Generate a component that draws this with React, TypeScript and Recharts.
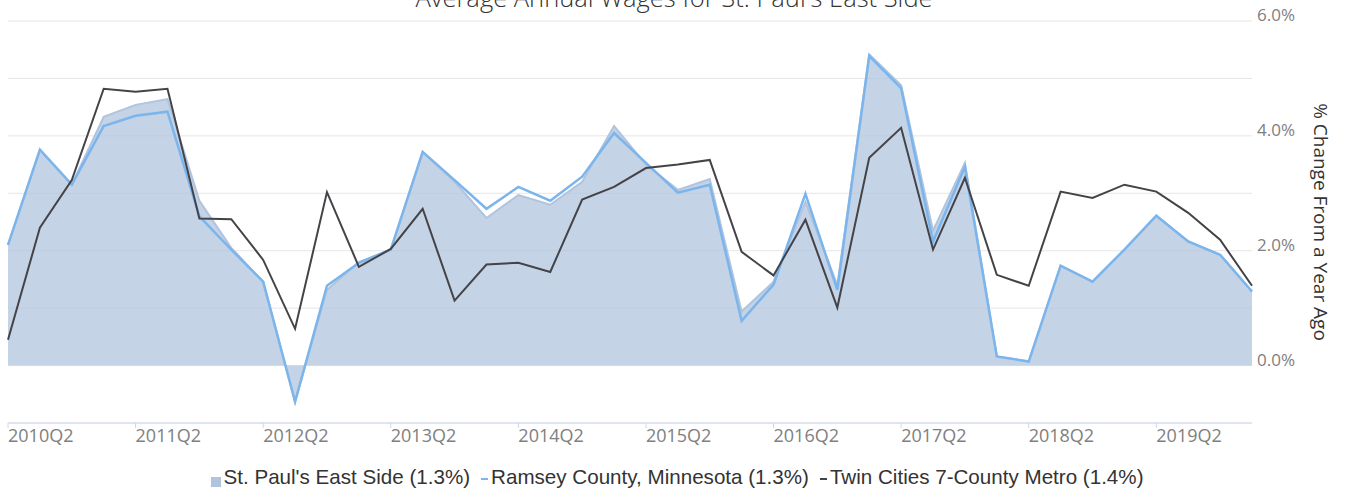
import { Area, CartesianGrid, ComposedChart, Legend, Line, XAxis, YAxis } from 'recharts';

const quarters = [
  '2010Q2', '2010Q3', '2010Q4', '2011Q1', '2011Q2', '2011Q3', '2011Q4', '2012Q1',
  '2012Q2', '2012Q3', '2012Q4', '2013Q1', '2013Q2', '2013Q3', '2013Q4', '2014Q1',
  '2014Q2', '2014Q3', '2014Q4', '2015Q1', '2015Q2', '2015Q3', '2015Q4', '2016Q1',
  '2016Q2', '2016Q3', '2016Q4', '2017Q1', '2017Q2', '2017Q3', '2017Q4', '2018Q1',
  '2018Q2', '2018Q3', '2018Q4', '2019Q1', '2019Q2', '2019Q3', '2019Q4', '2020Q1',
];

const xTickLabels = [
  '2010Q2', '2011Q2', '2012Q2', '2013Q2', '2014Q2',
  '2015Q2', '2016Q2', '2017Q2', '2018Q2', '2019Q2',
];

const yTicks = [-1, 0, 1, 2, 3, 4, 5, 6];

// % change from a year ago
const eastSide = [
  2.1, 3.76, 3.15, 4.33, 4.54, 4.64, 2.87, 2.05, 1.46, -0.63,
  1.32, 1.8, 2.02, 3.72, 3.2, 2.57, 2.97, 2.8, 3.2, 4.17,
  3.5, 3.06, 3.25, 0.94, 1.46, 2.85, 1.4, 5.42, 4.88, 2.35,
  3.53, 0.16, 0.07, 1.74, 1.46, 2.02, 2.61, 2.16, 1.93, 1.29,
];

const ramsey = [
  2.1, 3.76, 3.15, 4.17, 4.35, 4.42, 2.6, 2.02, 1.46, -0.63,
  1.39, 1.79, 2.02, 3.72, 3.23, 2.73, 3.11, 2.87, 3.29, 4.05,
  3.53, 3.01, 3.15, 0.78, 1.41, 2.99, 1.32, 5.39, 4.83, 2.16,
  3.46, 0.16, 0.07, 1.74, 1.46, 2.02, 2.61, 2.16, 1.93, 1.29,
];

const twinCities = [
  0.45, 2.4, 3.23, 4.82, 4.77, 4.82, 2.56, 2.55, 1.84, 0.64,
  3.02, 1.72, 2.03, 2.73, 1.13, 1.76, 1.79, 1.63, 2.89, 3.11,
  3.44, 3.5, 3.58, 1.98, 1.57, 2.54, 1.01, 3.62, 4.14, 2.02,
  3.27, 1.58, 1.39, 3.03, 2.92, 3.15, 3.03, 2.66, 2.19, 1.39,
];

const legendItems = [
  { name: "St. Paul's East Side (1.3%)", color: '#B0C4DE', kind: 'square' },
  { name: 'Ramsey County, Minnesota (1.3%)', color: '#7cb5ec', kind: 'line' },
  { name: 'Twin Cities 7-County Metro (1.4%)', color: '#434348', kind: 'line' },
];

const data = quarters.map((q, i) => ({
  q,
  eastSide: eastSide[i],
  ramsey: ramsey[i],
  twinCities: twinCities[i],
}));

function XTick(props: any) {
  const { x, y, payload } = props;
  return (
    <text x={x} y={y + 12} textAnchor="start" fontSize={18} fill="#808080" fontFamily="'Open Sans', sans-serif">
      {payload.value}
    </text>
  );
}

function YTick(props: any) {
  const { x, y, payload } = props;
  const v = Number(payload.value);
  if (v < 0 || v % 2 !== 0) {
    return <g />;
  }
  return (
    <text x={x} y={y} textAnchor="start" fontSize={17} fill="#808080" fontFamily="'Open Sans', sans-serif">
      {`${v.toFixed(1)}%`}
    </text>
  );
}

function LegendContent() {
  return (
    <div
      style={{
        display: 'flex',
        justifyContent: 'center',
        alignItems: 'center',
        height: 24,
        gap: 11,
        fontFamily: "'Liberation Sans', Arial, sans-serif",
        fontSize: 20.6,
        color: '#333',
        lineHeight: '24px',
        whiteSpace: 'nowrap',
      }}
    >
      {legendItems.map((item) => (
        <div key={item.name} style={{ display: 'flex', alignItems: 'center' }}>
          {item.kind === 'square' ? (
            <span style={{ display: 'inline-block', width: 10, height: 10, marginTop: 9, marginRight: 3, background: item.color }} />
          ) : (
            <span style={{ display: 'inline-block', width: 7, height: 2, marginTop: 4, marginRight: 3, background: item.color }} />
          )}
          <span>{item.name}</span>
        </div>
      ))}
    </div>
  );
}

export default function App() {
  return (
    <div style={{ position: 'absolute', left: 0, top: 0, width: 1346, height: 491, background: '#fff' }}>
      <ComposedChart width={1346} height={491} data={data} margin={{ top: 21, right: 0, bottom: 2, left: 8 }}>
        <CartesianGrid vertical={false} stroke="#e6e6e6" />
        <XAxis
          dataKey="q"
          ticks={xTickLabels}
          interval={0}
          height={42}
          tickSize={5}
          tickLine={{ stroke: '#ccd6eb' }}
          axisLine={{ stroke: '#ccd6eb' }}
          tick={<XTick />}
        />
        <YAxis
          orientation="right"
          width={94}
          domain={[-1, 6]}
          ticks={yTicks}
          axisLine={false}
          tickLine={false}
          tickSize={0}
          tickMargin={5}
          tick={<YTick />}
        />
        <Legend verticalAlign="bottom" height={24} content={<LegendContent />} />
        <Area
          type="linear"
          dataKey="eastSide"
          stroke="#B0C4DE"
          strokeWidth={2}
          fill="#B0C4DE"
          fillOpacity={0.75}
          dot={false}
          activeDot={false}
          isAnimationActive={false}
        />
        <Line
          type="linear"
          dataKey="ramsey"
          stroke="#7cb5ec"
          strokeWidth={2.5}
          dot={false}
          activeDot={false}
          isAnimationActive={false}
        />
        <Line
          type="linear"
          dataKey="twinCities"
          stroke="#434348"
          strokeWidth={2}
          dot={false}
          activeDot={false}
          isAnimationActive={false}
        />
      </ComposedChart>
      <svg width={1346} height={491} style={{ position: 'absolute', left: 0, top: 0, pointerEvents: 'none' }}>
        <text x={674} y={7} textAnchor="middle" fontSize={25.5} fontWeight={300} fill="#333" fontFamily="'Open Sans', sans-serif">
          Average Annual Wages for St. Paul's East Side
        </text>
        <text
          x={1321}
          y={222}
          transform="rotate(90 1321 222)"
          textAnchor="middle"
          dominantBaseline="central"
          fontSize={19}
          fill="#333"
          fontFamily="'Open Sans', sans-serif"
        >
          % Change From a Year Ago
        </text>
      </svg>
    </div>
  );
}
